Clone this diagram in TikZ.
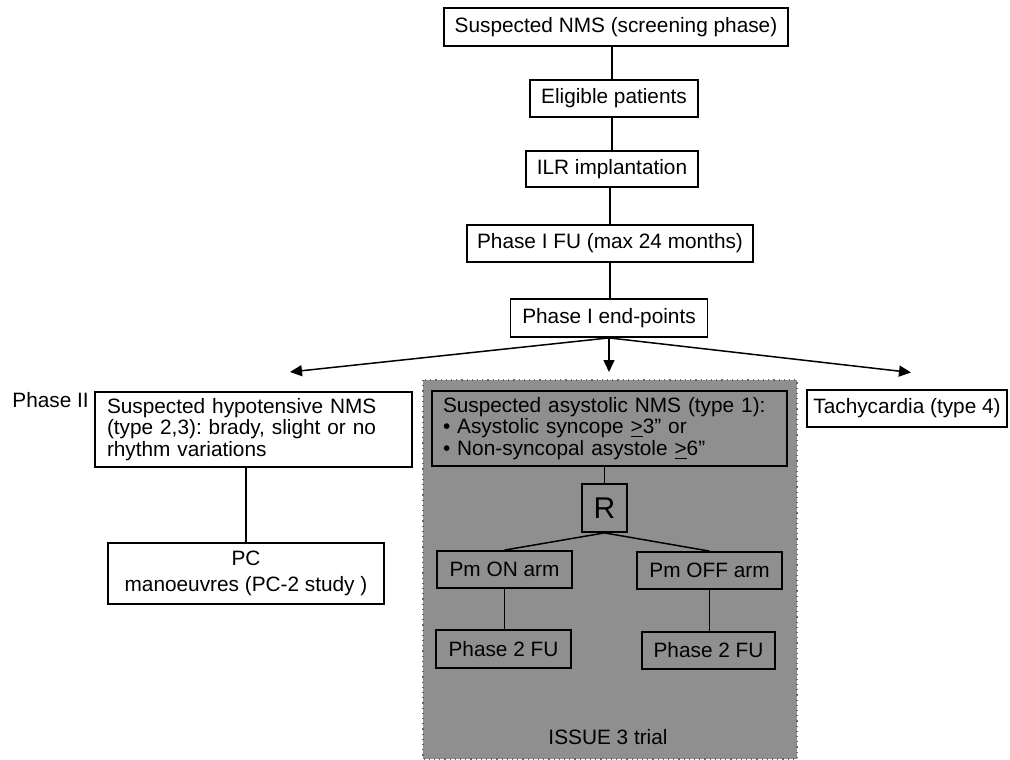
\documentclass[tikz,border=0pt]{standalone}
\usepackage{fontspec}
\setmainfont{Liberation Sans}
\usetikzlibrary{arrows.meta}
\usetikzlibrary{positioning}
\frenchspacing

\begin{document}
\begin{tikzpicture}
  [x=0.5pt, y=-0.5pt,
   font=\fontsize{10.4}{10.7}\selectfont,
   box/.style={draw, line width=0.9pt, inner sep=0pt, align=center},
   textbox/.style={draw, line width=0.9pt, inner ysep=0pt, align=left},
   link/.style={line width=0.75pt},
   arr/.style={line width=0.75pt, -{Triangle[length=6pt, width=5.5pt]}},
   trial/.style={draw=black!60, line width=0.6pt, dotted},
  ]
  \useasboundingbox (0,0) rectangle (1010,759);

  % shaded trial area
  \fill[black!44] (423,380) rectangle (797,759);
  \draw[trial] (423,380) rectangle (797,759);

  % screening phase
  \node[box, minimum width=172pt, minimum height=19pt]   (scr)  at (616,27)    {Suspected NMS (screening phase)};
  \node[box, minimum width=84pt, minimum height=18.5pt]  (elig) at (614,98.5)  {Eligible patients};
  \node[box, minimum width=86pt, minimum height=18pt]    (ilr)  at (612,169)   {ILR implantation};
  \node[box, minimum width=143pt, minimum height=18.5pt] (fuI)  at (610,243.5) {Phase I FU (max 24 months)};
  \node[box, minimum width=98.5pt, minimum height=19pt]  (endp) at (609,318)   {Phase I end-points};

  \draw[link] (scr.south -| ilr) -- (elig.north -| ilr);
  \draw[link] (elig.south -| ilr) -- (ilr.north);
  \draw[link] (ilr.south -| fuI) -- (fuI.north);
  \draw[link] (fuI.south) -- (endp.north -| fuI);

  % phase II
  \node[anchor=base west, inner sep=0pt] (phII) at (12,407) {Phase II};
  \node[textbox, inner xsep=6pt, text width=146.5pt, minimum height=37.5pt] (hypo) at (253.5,429.5)
    {Suspected hypotensive NMS\\(type 2,3): brady, slight or no\\rhythm variations};
  \node[textbox, inner xsep=5.5pt, text width=166.5pt, minimum height=37.5pt] (asys) at (609.5,428.5)
    {Suspected asystolic NMS (type 1):\\%
     \textbullet\ Asystolic syncope \underline{>}3” or\\%
     \textbullet\ Non-syncopal asystole \underline{>}6”};
  \node[box, minimum width=100pt, minimum height=18.5pt] (tachy) at (907,408.5) {Tachycardia (type 4)};

  \coordinate (hypoTip)  at (290,372);
  \coordinate (asysTip)  at (609,372);
  \coordinate (tachyTip) at (911,372.5);
  \draw[arr] (endp.south) -- (hypoTip);
  \draw[arr] (endp.south) -- (asysTip);
  \draw[arr] (endp.south) -- (tachyTip);

  \node[box, minimum width=138pt, minimum height=30.5pt, font=\fontsize{10.4}{13}\selectfont] (pc) at (246,573.5)
    {PC\\manoeuvres (PC-2 study )};
  \draw[link] (pc.north |- hypo.south) -- (pc.north);

  % randomisation
  \node[box, minimum width=22.5pt, minimum height=24pt, font=\fontsize{15}{16}\selectfont] (rnd) at (604.5,508) {R};
  \draw[link] (rnd.north |- asys.south) -- (rnd.north);

  \node[box, minimum width=67.5pt, minimum height=18.5pt] (pmon)  at (504.5,569.5) {Pm ON arm};
  \node[box, minimum width=72.5pt, minimum height=18.5pt] (pmoff) at (709.5,570.5) {Pm OFF arm};
  \node[box, minimum width=67.5pt, minimum height=19pt]   (fuon)  at (503.5,649)   {Phase 2 FU};
  \node[box, minimum width=66.5pt, minimum height=18.5pt] (fuoff) at (708.5,650.5) {Phase 2 FU};

  \draw[link] (rnd.south) -- (pmon.north);
  \draw[link] (rnd.south) -- (pmoff.north);
  \draw[link] (pmon.south) -- (pmon.south |- fuon.north);
  \draw[link] (pmoff.south) -- (pmoff.south |- fuoff.north);

  \node (issue) at (608,737) {ISSUE 3 trial};
\end{tikzpicture}
\end{document}
